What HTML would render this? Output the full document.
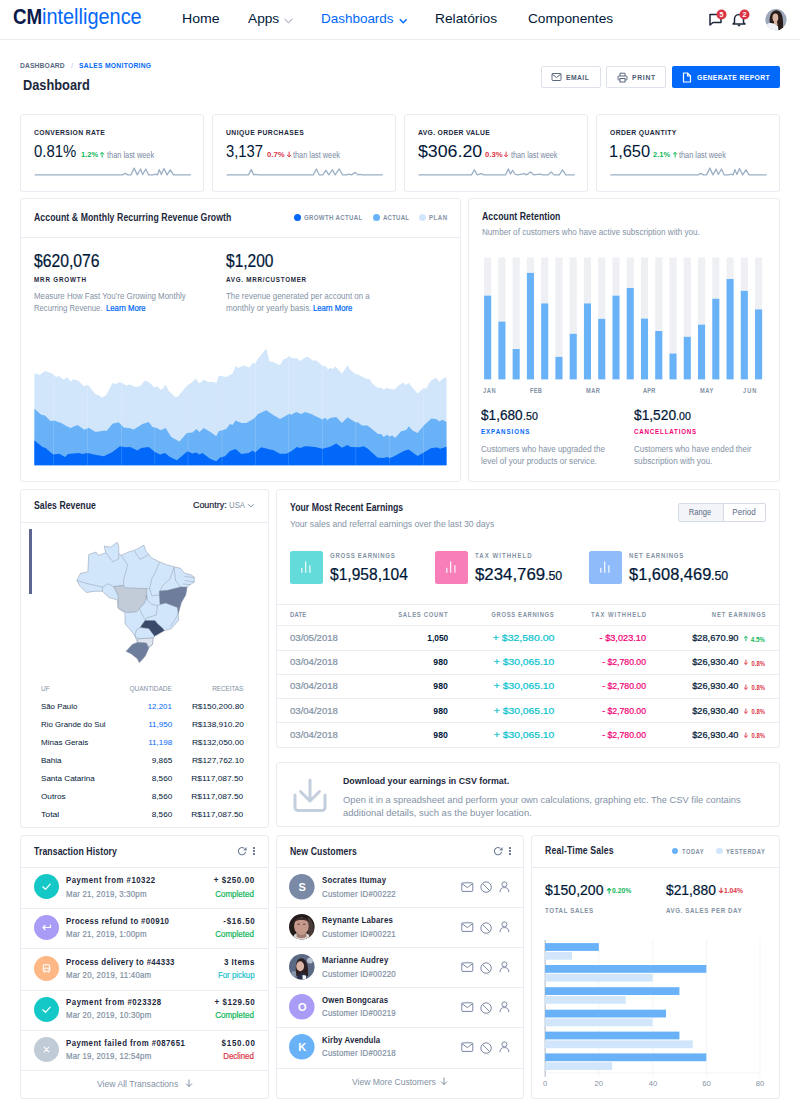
<!DOCTYPE html>
<html><head><meta charset="utf-8"><title>Dashboard</title>
<style>
html,body{margin:0;padding:0;background:#fff;}
body{width:800px;height:1119px;position:relative;overflow:hidden;font-family:"Liberation Sans", sans-serif;}
.t{position:absolute;white-space:nowrap;line-height:1;display:inline-block;}
.card{position:absolute;border:1px solid #e9ecf2;border-radius:3px;box-sizing:border-box;background:#fff;}
svg{position:absolute;overflow:visible;}
</style></head><body>

<div style="position:absolute;left:0px;top:39px;width:800px;height:1px;background:#e9ecf1;"></div>
<span class="t" style="top:5.5px;font-size:21.8px;color:#0a1a4a;font-weight:700;left:13.1px;transform:scaleX(0.861);transform-origin:left;">CM</span>
<span class="t" style="top:5.5px;font-size:21.8px;color:#0168fa;left:41.69px;transform:scaleX(0.914);transform-origin:left;">intelligence</span>
<span class="t" style="top:12.3px;font-size:13.6px;color:#001737;left:182.06px;transform:scaleX(1.037);transform-origin:left;">Home</span>
<span class="t" style="top:12.3px;font-size:13.6px;color:#001737;left:248px;transform:scaleX(1.007);transform-origin:left;">Apps</span>
<svg style="left:284px;top:17.5px;" width="10" height="8" viewBox="0 0 10 8"><polyline points="0.6,1 4.5,4.8 8.4,1" fill="none" stroke="#8392a5" stroke-width="1"/></svg>
<span class="t" style="top:12.3px;font-size:13.6px;color:#0168fa;left:320.61px;transform:scaleX(0.990);transform-origin:left;">Dashboards</span>
<svg style="left:399.3px;top:17.5px;" width="10" height="8" viewBox="0 0 10 8"><polyline points="0.8,1.2 4.2,4.8 7.6,1.2" fill="none" stroke="#0168fa" stroke-width="1.4"/></svg>
<span class="t" style="top:12.3px;font-size:13.6px;color:#001737;left:435.24px;transform:scaleX(1.014);transform-origin:left;">Relatórios</span>
<span class="t" style="top:12.3px;font-size:13.6px;color:#001737;left:527.8px;transform:scaleX(1.005);transform-origin:left;">Componentes</span>
<svg style="left:708px;top:12px;" width="16" height="16" viewBox="0 0 16 16"><path d="M2,2.5 H13 V10.5 H5 L2,13 Z" fill="none" stroke="#1c273c" stroke-width="1.5" stroke-linejoin="round"/></svg>
<svg style="left:715.5px;top:9px;" width="11" height="11" viewBox="0 0 11 11"><circle cx="5.5" cy="5.5" r="5" fill="#dc3545"/><text x="5.5" y="8" font-size="7" font-weight="700" fill="#fff" text-anchor="middle" font-family="Liberation Sans">5</text></svg>
<svg style="left:731px;top:12px;" width="16" height="16" viewBox="0 0 16 16"><path d="M3.5,10.5 V7 A4.5,4.5 0 0 1 12.5,7 V10.5 L14,12 H2 Z" fill="none" stroke="#1c273c" stroke-width="1.5" stroke-linejoin="round"/><path d="M6.8,13.5 H9.2" stroke="#1c273c" stroke-width="1.5"/></svg>
<svg style="left:738.5px;top:9px;" width="11" height="11" viewBox="0 0 11 11"><circle cx="5.5" cy="5.5" r="5" fill="#dc3545"/><text x="5.5" y="8" font-size="7" font-weight="700" fill="#fff" text-anchor="middle" font-family="Liberation Sans">2</text></svg>
<svg style="left:765px;top:9px;" width="22" height="22" viewBox="0 0 22 22"><defs><clipPath id="av0"><circle cx="11" cy="10.65" r="10.6"/></clipPath></defs>
<g clip-path="url(#av0)"><rect width="22" height="22" fill="#9ba7b9"/>
<path d="M4.6,13 C4.4,7 6,2.2 11,1.2 C15.5,1.5 17.2,5 17.6,9 C18.2,13 18.4,17 17.6,21 L12.5,22 C12,17 9,16 6,15.5 Z" fill="#2a1c18"/>
<ellipse cx="10.4" cy="8.7" rx="2.9" ry="4.1" fill="#d9b6a6"/>
<path d="M9,12 L12,12 L12.6,16 L9,16 Z" fill="#d5ae9c"/>
<path d="M1,16 C3,13.5 6,13.6 9,14.6 C10.5,16 12,16.5 13,17 L13.5,23 L1,23 Z" fill="#eef1f5"/>
</g></svg>
<span class="t" style="top:62.1px;font-size:7.8px;color:#596882;font-weight:700;letter-spacing:0.16px;left:20px;transform:scaleX(0.860);transform-origin:left;">DASHBOARD</span>
<span class="t" style="top:62px;font-size:8px;color:#c0ccda;left:71px;">/</span>
<span class="t" style="top:62.1px;font-size:7.8px;color:#0168fa;font-weight:700;letter-spacing:0.34px;left:79.25px;transform:scaleX(0.860);transform-origin:left;">SALES MONITORING</span>
<span class="t" style="top:77.7px;font-size:14.6px;color:#1c273c;font-weight:700;left:23px;transform:scaleX(0.876);transform-origin:left;">Dashboard</span>
<div style="position:absolute;left:541px;top:65.5px;width:60px;height:22.5px;border:1px solid #dde2ea;border-radius:2px;box-sizing:border-box;"></div>
<div style="position:absolute;left:606px;top:65.5px;width:60px;height:22.5px;border:1px solid #dde2ea;border-radius:2px;box-sizing:border-box;"></div>
<div style="position:absolute;left:672px;top:65.5px;width:108px;height:22.5px;background:#0168fa;border-radius:2px;"></div>
<svg style="left:551px;top:72px;" width="11" height="10" viewBox="0 0 11 10"><rect x="1" y="1.5" width="9" height="7" rx="0.8" fill="none" stroke="#5b6882" stroke-width="1"/><polyline points="1,2 5.5,5.5 10,2" fill="none" stroke="#5b6882" stroke-width="1"/></svg>
<span class="t" style="top:73.65px;font-size:7.9px;color:#4d5a73;font-weight:700;letter-spacing:0.5px;left:566.4px;transform:scaleX(0.860);transform-origin:left;">EMAIL</span>
<svg style="left:616.5px;top:71.5px;" width="11" height="11" viewBox="0 0 11 11"><path d="M3,4 V1.2 H8 V4" fill="none" stroke="#5b6882" stroke-width="1"/><rect x="1" y="4" width="9" height="4" rx="0.8" fill="none" stroke="#5b6882" stroke-width="1"/><rect x="3" y="6.5" width="5" height="3.5" fill="#fff" stroke="#5b6882" stroke-width="1"/></svg>
<span class="t" style="top:73.65px;font-size:7.9px;color:#4d5a73;font-weight:700;letter-spacing:0.81px;left:631.7px;transform:scaleX(0.860);transform-origin:left;">PRINT</span>
<svg style="left:682px;top:71.5px;" width="10" height="11" viewBox="0 0 10 11"><path d="M1.5,1 H5.5 L8.5,4 V10 H1.5 Z" fill="none" stroke="#fff" stroke-width="1.2" stroke-linejoin="round"/><path d="M5.5,1 V4 H8.5" fill="none" stroke="#fff" stroke-width="1.1"/></svg>
<span class="t" style="top:73.65px;font-size:7.9px;color:#fff;font-weight:700;letter-spacing:0.44px;left:696.7px;transform:scaleX(0.860);transform-origin:left;">GENERATE REPORT</span>
<div class="card" style="left:20px;top:114px;width:184.38px;height:77.5px;"></div>
<span class="t" style="top:129.25px;font-size:7.9px;color:#1c273c;font-weight:700;letter-spacing:0.45px;left:34px;transform:scaleX(0.860);transform-origin:left;">CONVERSION RATE</span>
<span class="t" style="top:142.8px;font-size:17.4px;color:#001737;left:34px;transform:scaleX(0.856);transform-origin:left;">0.81%</span>
<span class="t" style="top:151.4px;font-size:8px;color:#10b759;font-weight:700;left:81.2px;transform:scaleX(0.938);transform-origin:left;">1.2%</span>
<svg style="left:100.4px;top:152px;" width="4.2" height="5.2" viewBox="0 0 4.2 5.2"><path d="M2.1,5.2 V0.6 M0.3,2.1 L2.1,0.5 L3.9,2.1" fill="none" stroke="#10b759" stroke-width="0.95" stroke-linecap="round" stroke-linejoin="round"/></svg>
<span class="t" style="top:150.7px;font-size:8.4px;color:#7987a1;left:107.2px;transform:scaleX(0.881);transform-origin:left;">than last week</span>
<svg style="left:0px;top:160px;" width="800" height="20" viewBox="0 0 800 20"><polyline points="34.7,14.9 122.46,14.9 125.22,13.41 127.77,14.9 130.96,14.9 134.15,8.1 137.33,14.9 140.52,8.95 142.65,14.48 145.83,8.95 148.6,14.9 153.27,14.9 155.4,14.05 157.52,14.9 159.22,9.59 161.35,14.48 163.9,8.53 167.08,14.9 170.27,9.8 173.46,14.9 190.88,14.9" fill="none" stroke="#9cb0c6" stroke-width="1.3" stroke-linejoin="round"/></svg>
<div class="card" style="left:211.88px;top:114px;width:184.38px;height:77.5px;"></div>
<span class="t" style="top:129.25px;font-size:7.9px;color:#1c273c;font-weight:700;letter-spacing:0.53px;left:225.88px;transform:scaleX(0.860);transform-origin:left;">UNIQUE PURCHASES</span>
<span class="t" style="top:142.8px;font-size:17.4px;color:#001737;left:225.88px;transform:scaleX(0.852);transform-origin:left;">3,137</span>
<span class="t" style="top:151.4px;font-size:8px;color:#dc3545;font-weight:700;left:266.75px;transform:scaleX(0.963);transform-origin:left;">0.7%</span>
<svg style="left:286.6px;top:152px;" width="4.2" height="5.2" viewBox="0 0 4.2 5.2"><path d="M2.1,0 V4.6 M0.3,3.1 L2.1,4.7 L3.9,3.1" fill="none" stroke="#dc3545" stroke-width="0.95" stroke-linecap="round" stroke-linejoin="round"/></svg>
<span class="t" style="top:150.7px;font-size:8.4px;color:#7987a1;left:293.2px;transform:scaleX(0.876);transform-origin:left;">than last week</span>
<svg style="left:0px;top:160px;" width="800" height="20" viewBox="0 0 800 20"><polyline points="226.57,14.9 248.46,14.9 251.22,9.59 253.77,14.9 255.9,14.48 258.02,14.9 313.27,14.9 316.46,8.95 319.22,14.9 322.84,14.9 326.02,10.23 328.78,14.9 332.4,9.8 335.16,14.9 339.2,8.95 342.6,14.9 347.27,14.9 348.76,14.05 351.52,14.9 355.35,12.35 357.9,14.9 360.02,14.48 362.15,14.9 382.76,14.9" fill="none" stroke="#9cb0c6" stroke-width="1.3" stroke-linejoin="round"/></svg>
<div class="card" style="left:403.75px;top:114px;width:184.38px;height:77.5px;"></div>
<span class="t" style="top:129.25px;font-size:7.9px;color:#1c273c;font-weight:700;letter-spacing:0.38px;left:417.75px;transform:scaleX(0.860);transform-origin:left;">AVG. ORDER VALUE</span>
<span class="t" style="top:142.8px;font-size:17.4px;color:#001737;left:417.75px;transform:scaleX(1.021);transform-origin:left;">$306.20</span>
<span class="t" style="top:151.4px;font-size:8px;color:#dc3545;font-weight:700;left:484.5px;transform:scaleX(0.966);transform-origin:left;">0.3%</span>
<svg style="left:504.2px;top:152px;" width="4.2" height="5.2" viewBox="0 0 4.2 5.2"><path d="M2.1,0 V4.6 M0.3,3.1 L2.1,4.7 L3.9,3.1" fill="none" stroke="#dc3545" stroke-width="0.95" stroke-linecap="round" stroke-linejoin="round"/></svg>
<span class="t" style="top:150.7px;font-size:8.4px;color:#7987a1;left:511px;transform:scaleX(0.868);transform-origin:left;">than last week</span>
<svg style="left:0px;top:160px;" width="800" height="20" viewBox="0 0 800 20"><polyline points="418.45,14.9 471.57,14.9 474.34,9.8 477.1,14.9 481.35,13.63 483.9,14.9 505.57,14.9 508.34,8.95 510.46,14.05 512.59,10.23 515.35,14.48 517.9,14.9 524.27,13.63 526.4,14.9 530.65,11.93 533.83,14.9 540.21,14.05 542.33,14.9 548.07,14.9 551.26,11.93 554.02,14.9 559.33,14.9 562.52,9.8 565.71,14.9 574.63,14.9" fill="none" stroke="#9cb0c6" stroke-width="1.3" stroke-linejoin="round"/></svg>
<div class="card" style="left:595.62px;top:114px;width:184.38px;height:77.5px;"></div>
<span class="t" style="top:129.25px;font-size:7.9px;color:#1c273c;font-weight:700;letter-spacing:0.47px;left:609.62px;transform:scaleX(0.860);transform-origin:left;">ORDER QUANTITY</span>
<span class="t" style="top:142.8px;font-size:17.4px;color:#001737;left:608.68px;transform:scaleX(0.944);transform-origin:left;">1,650</span>
<span class="t" style="top:151.4px;font-size:8px;color:#10b759;font-weight:700;left:653px;transform:scaleX(0.938);transform-origin:left;">2.1%</span>
<svg style="left:673px;top:152px;" width="4.2" height="5.2" viewBox="0 0 4.2 5.2"><path d="M2.1,5.2 V0.6 M0.3,2.1 L2.1,0.5 L3.9,2.1" fill="none" stroke="#10b759" stroke-width="0.95" stroke-linecap="round" stroke-linejoin="round"/></svg>
<span class="t" style="top:150.7px;font-size:8.4px;color:#7987a1;left:679.3px;transform:scaleX(0.874);transform-origin:left;">than last week</span>
<svg style="left:0px;top:160px;" width="800" height="20" viewBox="0 0 800 20"><polyline points="610.33,14.9 698.09,14.9 700.85,13.41 703.4,14.9 706.59,14.9 709.77,8.1 712.96,14.9 716.15,8.95 718.27,14.48 721.46,8.95 724.22,14.9 728.9,14.9 731.02,14.05 733.15,14.9 734.85,9.59 736.97,14.48 739.52,8.53 742.71,14.9 745.9,9.8 749.08,14.9 766.51,14.9" fill="none" stroke="#9cb0c6" stroke-width="1.3" stroke-linejoin="round"/></svg>
<div class="card" style="left:20px;top:198px;width:440.5px;height:283.5px;"></div>
<div style="position:absolute;left:20px;top:237px;width:440.5px;height:1px;background:#e9ecf2;"></div>
<span class="t" style="top:211.7px;font-size:10.6px;color:#1c273c;font-weight:700;letter-spacing:0.1px;left:34.3px;transform:scaleX(0.820);transform-origin:left;">Account &amp; Monthly Recurring Revenue Growth</span>
<div style="position:absolute;left:294.2px;top:214px;width:7px;height:7px;border-radius:50%;background:#0168fa;"></div>
<div style="position:absolute;left:372.8px;top:214px;width:7px;height:7px;border-radius:50%;background:#69b2f8;"></div>
<div style="position:absolute;left:418.5px;top:214px;width:7px;height:7px;border-radius:50%;background:#d1e6fa;"></div>
<span class="t" style="top:215.25px;font-size:7.1px;color:#8392a5;font-weight:700;letter-spacing:0.37px;left:304.3px;transform:scaleX(0.860);transform-origin:left;">GROWTH ACTUAL</span>
<span class="t" style="top:215.25px;font-size:7.1px;color:#8392a5;font-weight:700;letter-spacing:0.22px;left:382.8px;transform:scaleX(0.860);transform-origin:left;">ACTUAL</span>
<span class="t" style="top:215.25px;font-size:7.1px;color:#8392a5;font-weight:700;letter-spacing:0.58px;left:428.5px;transform:scaleX(0.860);transform-origin:left;">PLAN</span>
<span class="t" style="top:252.3px;font-size:18px;color:#001737;-webkit-text-stroke:0.22px #001737;left:34.3px;transform:scaleX(0.873);transform-origin:left;">$620,076</span>
<span class="t" style="top:275.65px;font-size:7.3px;color:#1c273c;font-weight:700;letter-spacing:0.95px;left:34.3px;transform:scaleX(0.860);transform-origin:left;">MRR GROWTH</span>
<span class="t" style="top:291.7px;font-size:8.4px;color:#8392a5;left:34.3px;transform:scaleX(0.942);transform-origin:left;">Measure How Fast You’re Growing Monthly</span>
<span class="t" style="top:304.1px;font-size:8.4px;color:#8392a5;left:34.3px;transform:scaleX(0.920);transform-origin:left;">Recurring Revenue.</span>
<span class="t" style="top:304.1px;font-size:8.4px;color:#0168fa;-webkit-text-stroke:0.22px #0168fa;left:105.8px;transform:scaleX(0.924);transform-origin:left;">Learn More</span>
<span class="t" style="top:252.3px;font-size:18px;color:#001737;-webkit-text-stroke:0.22px #001737;left:225.5px;transform:scaleX(0.863);transform-origin:left;">$1,200</span>
<span class="t" style="top:275.65px;font-size:7.3px;color:#1c273c;font-weight:700;letter-spacing:0.85px;left:225.5px;transform:scaleX(0.860);transform-origin:left;">AVG. MRR/CUSTOMER</span>
<span class="t" style="top:291.7px;font-size:8.4px;color:#8392a5;left:225.5px;transform:scaleX(0.947);transform-origin:left;">The revenue generated per account on a</span>
<span class="t" style="top:304.1px;font-size:8.4px;color:#8392a5;left:225.5px;transform:scaleX(0.972);transform-origin:left;">monthly or yearly basis.</span>
<span class="t" style="top:304.1px;font-size:8.4px;color:#0168fa;-webkit-text-stroke:0.22px #0168fa;left:312.6px;transform:scaleX(0.917);transform-origin:left;">Learn More</span>
<svg style="left:0px;top:0px;" width="800" height="480" viewBox="0 0 800 480"><path d="M34.4,465.3 L34.4,373.5 L40,374.75 L45,371 L52.5,373.75 L56,376.9 L58.75,376 L63.75,379.75 L67.25,377.25 L70.6,381.6 L73,379.4 L78,380.6 L83.75,386.25 L88,384.75 L95,393.75 L98,395 L101.9,397.5 L106.25,395 L112.5,383.1 L115.6,384 L120,381.9 L126.25,385.6 L130,384.4 L135,386.9 L140,386.25 L145,380.6 L148.75,381.9 L154.4,387.25 L156.9,386.25 L160.6,389.75 L162.5,388.75 L165.6,384.4 L168.75,391 L175.6,397.25 L178.1,396.5 L187.5,385 L191.25,383.1 L195.6,378.75 L199.4,383.5 L203.75,379.75 L208.1,381.9 L213.75,381.9 L216.25,383.5 L218.75,375.6 L226.25,376.9 L230,375 L232.5,373.5 L235.6,366.25 L238.1,368.1 L243.75,365.6 L249.4,367.5 L252.5,363.1 L255,363.75 L258.1,358.75 L266.25,348.5 L269.4,361.25 L273.1,361.9 L278.75,364.75 L280.6,364.4 L283.1,359.4 L285.6,359 L288.75,356 L291.25,358.1 L297.5,358.5 L300,361 L306.25,356.9 L309.4,357.75 L312.5,360.6 L316.25,360.6 L323.1,366.25 L325,365.6 L328.1,369.4 L330,368.1 L332.5,369 L335.6,366.5 L341.9,373.75 L347.5,365.6 L350,369.75 L355.6,374 L358.1,374.4 L362.5,376.9 L366.9,379 L369.4,378.75 L372.5,383.75 L378.1,388.1 L380.6,387.5 L383.75,389.4 L386.9,387.75 L390,389 L394.4,389.4 L398.1,386 L403.1,382.5 L405.6,385 L408.75,383.1 L417.5,393.5 L423.75,388.1 L426.25,388.75 L430.2,381.3 L436,377.8 L439.5,382.1 L442.4,379 L446.5,377 L446.5,465.3 Z" fill="#d1e6fa"/><path d="M34.4,465.3 L34.4,408.75 L41.25,414.75 L45,415.6 L50.6,421.25 L53.75,420.6 L61.25,423.1 L66.25,426 L70.6,428.1 L77.5,425 L84.4,429.75 L88.75,427.75 L95.6,431.9 L105,430.6 L106.25,431.25 L112.5,423.75 L118.75,422.25 L123.75,427.5 L130,428.3 L133.75,429.4 L142.5,424 L148.75,421.9 L152.5,426.9 L156.9,428.1 L160.6,430.25 L165.6,428.1 L171.25,436.9 L179.4,441.5 L186.9,433.1 L192.5,432.5 L196.25,429 L199.4,431.9 L203.75,428.1 L211.25,432.5 L216.25,436.25 L218.75,431.25 L226.25,429 L230,424 L232.5,425 L235.6,420.6 L241.25,423.1 L246.25,423.1 L253.75,418.75 L258.1,414 L266.25,410.25 L272.5,414.4 L280,419 L285,416.25 L289.4,413.75 L291.25,414.75 L296.25,411.9 L301.25,414 L305,411.9 L311.25,414 L316.25,416.5 L322.5,419.4 L325,417.75 L327.5,420 L330,418.1 L336.25,416.9 L341.9,423.1 L347.5,417.25 L355,421.9 L358.1,422.5 L361.9,425.6 L367.5,425.6 L378.1,434 L381.25,434 L383.75,436.9 L386.9,434.75 L389.4,436.5 L392.5,435.6 L395,438.1 L401.25,431.25 L406.25,430 L408.75,426.25 L412.5,430.6 L417.5,433.1 L423.75,425.6 L431.4,418.5 L436,419.1 L439.5,421.4 L442.4,419.7 L446.5,422 L446.5,465.3 Z" fill="#69b2f8"/><path d="M34.4,465.3 L34.4,440.6 L42.5,446.9 L45.6,448.1 L53.1,454.4 L59.4,453.75 L65,456.9 L68.1,454 L78.75,453.1 L82.5,454 L87.5,453.1 L95,454.75 L103.75,456.25 L112.5,451.9 L120,446.25 L125,447.25 L130,447.1 L137.5,450.6 L141.25,448.1 L148.75,446.9 L155,451.9 L160,454.4 L165,453.1 L170,456.9 L176.9,460.25 L187.5,451.25 L192.5,453.5 L196.25,452.5 L199.4,454.4 L202.5,453.1 L210,458.75 L216.25,461.25 L220,457.5 L225,456.25 L230,451.1 L235.6,449 L241.25,454 L248.75,453.1 L252.5,450.6 L255,452.5 L261.25,447.25 L270,449.4 L273.1,450 L280,453.75 L286.25,453.75 L291.25,451.25 L296.9,446.9 L300,448.1 L305,446.25 L310,446.5 L316.25,447.25 L322.5,448.75 L330,446.7 L336.25,443.5 L341.9,447.75 L347.5,445 L350.6,446.9 L360,447.25 L363.75,446.25 L367.5,448.5 L377.5,457.5 L383.75,458.1 L386.9,456.9 L390,458.1 L393.75,456.5 L400,453.1 L405,450.6 L408.75,449.4 L417.5,456 L423.3,452.8 L431.4,448.1 L437.2,447.6 L440.1,448.7 L446.5,446.7 L446.5,465.3 Z" fill="#0168fa"/><rect x="53.1" y="300" width="0.8" height="165.3" fill="#ffffff" fill-opacity="0.18"/><rect x="87.1" y="300" width="0.8" height="165.3" fill="#ffffff" fill-opacity="0.18"/><rect x="121.1" y="300" width="0.8" height="165.3" fill="#ffffff" fill-opacity="0.18"/><rect x="154.4" y="300" width="0.8" height="165.3" fill="#ffffff" fill-opacity="0.18"/><rect x="187.6" y="300" width="0.8" height="165.3" fill="#ffffff" fill-opacity="0.18"/><rect x="221.6" y="300" width="0.8" height="165.3" fill="#ffffff" fill-opacity="0.18"/><rect x="255.2" y="300" width="0.8" height="165.3" fill="#ffffff" fill-opacity="0.18"/><rect x="288.1" y="300" width="0.8" height="165.3" fill="#ffffff" fill-opacity="0.18"/><rect x="322.1" y="300" width="0.8" height="165.3" fill="#ffffff" fill-opacity="0.18"/><rect x="355.4" y="300" width="0.8" height="165.3" fill="#ffffff" fill-opacity="0.18"/><rect x="389.3" y="300" width="0.8" height="165.3" fill="#ffffff" fill-opacity="0.18"/><rect x="423.2" y="300" width="0.8" height="165.3" fill="#ffffff" fill-opacity="0.18"/></svg>
<div class="card" style="left:467.5px;top:198px;width:312.5px;height:283.5px;"></div>
<span class="t" style="top:211.45px;font-size:10.6px;color:#1c273c;font-weight:700;letter-spacing:0.09px;left:481.6px;transform:scaleX(0.820);transform-origin:left;">Account Retention</span>
<span class="t" style="top:228.35px;font-size:8.3px;color:#8392a5;left:481.6px;transform:scaleX(0.978);transform-origin:left;">Number of customers who have active subscription with you.</span>
<svg style="left:0px;top:0px;" width="800" height="480" viewBox="0 0 800 480"><rect x="484.1" y="257.5" width="7.1" height="38.1" fill="#eef0f4"/><rect x="484.1" y="295.6" width="7.1" height="83.8" fill="#69b2f8"/><rect x="498.36" y="257.5" width="7.1" height="64.1" fill="#eef0f4"/><rect x="498.36" y="321.6" width="7.1" height="57.8" fill="#69b2f8"/><rect x="512.62" y="257.5" width="7.1" height="91.5" fill="#eef0f4"/><rect x="512.62" y="349" width="7.1" height="30.4" fill="#69b2f8"/><rect x="526.88" y="257.5" width="7.1" height="15.4" fill="#eef0f4"/><rect x="526.88" y="272.9" width="7.1" height="106.5" fill="#69b2f8"/><rect x="541.14" y="257.5" width="7.1" height="45.9" fill="#eef0f4"/><rect x="541.14" y="303.4" width="7.1" height="76" fill="#69b2f8"/><rect x="555.4" y="257.5" width="7.1" height="99.4" fill="#eef0f4"/><rect x="555.4" y="356.9" width="7.1" height="22.5" fill="#69b2f8"/><rect x="569.66" y="257.5" width="7.1" height="76.3" fill="#eef0f4"/><rect x="569.66" y="333.8" width="7.1" height="45.6" fill="#69b2f8"/><rect x="583.92" y="257.5" width="7.1" height="45.9" fill="#eef0f4"/><rect x="583.92" y="303.4" width="7.1" height="76" fill="#69b2f8"/><rect x="598.18" y="257.5" width="7.1" height="61.3" fill="#eef0f4"/><rect x="598.18" y="318.8" width="7.1" height="60.6" fill="#69b2f8"/><rect x="612.44" y="257.5" width="7.1" height="38.1" fill="#eef0f4"/><rect x="612.44" y="295.6" width="7.1" height="83.8" fill="#69b2f8"/><rect x="626.7" y="257.5" width="7.1" height="30.5" fill="#eef0f4"/><rect x="626.7" y="288" width="7.1" height="91.4" fill="#69b2f8"/><rect x="640.96" y="257.5" width="7.1" height="61.1" fill="#eef0f4"/><rect x="640.96" y="318.6" width="7.1" height="60.8" fill="#69b2f8"/><rect x="655.22" y="257.5" width="7.1" height="73.5" fill="#eef0f4"/><rect x="655.22" y="331" width="7.1" height="48.4" fill="#69b2f8"/><rect x="669.48" y="257.5" width="7.1" height="96" fill="#eef0f4"/><rect x="669.48" y="353.5" width="7.1" height="25.9" fill="#69b2f8"/><rect x="683.74" y="257.5" width="7.1" height="79.3" fill="#eef0f4"/><rect x="683.74" y="336.8" width="7.1" height="42.6" fill="#69b2f8"/><rect x="698" y="257.5" width="7.1" height="67.1" fill="#eef0f4"/><rect x="698" y="324.6" width="7.1" height="54.8" fill="#69b2f8"/><rect x="712.26" y="257.5" width="7.1" height="41.25" fill="#eef0f4"/><rect x="712.26" y="298.75" width="7.1" height="80.65" fill="#69b2f8"/><rect x="726.52" y="257.5" width="7.1" height="21.5" fill="#eef0f4"/><rect x="726.52" y="279" width="7.1" height="100.4" fill="#69b2f8"/><rect x="740.78" y="257.5" width="7.1" height="33.4" fill="#eef0f4"/><rect x="740.78" y="290.9" width="7.1" height="88.5" fill="#69b2f8"/><rect x="755.04" y="257.5" width="7.1" height="51.9" fill="#eef0f4"/><rect x="755.04" y="309.4" width="7.1" height="70" fill="#69b2f8"/></svg>
<span class="t" style="top:387.5px;font-size:6.6px;color:#8392a5;font-weight:700;letter-spacing:0.67px;left:482.9px;transform:scaleX(0.860);transform-origin:left;">JAN</span>
<span class="t" style="top:387.5px;font-size:6.6px;color:#8392a5;font-weight:700;letter-spacing:0.26px;left:530px;transform:scaleX(0.860);transform-origin:left;">FEB</span>
<span class="t" style="top:387.5px;font-size:6.6px;color:#8392a5;font-weight:700;letter-spacing:0.51px;left:586px;transform:scaleX(0.860);transform-origin:left;">MAR</span>
<span class="t" style="top:387.5px;font-size:6.6px;color:#8392a5;font-weight:700;letter-spacing:0.25px;left:643.4px;transform:scaleX(0.860);transform-origin:left;">APR</span>
<span class="t" style="top:387.5px;font-size:6.6px;color:#8392a5;font-weight:700;letter-spacing:0.67px;left:700px;transform:scaleX(0.860);transform-origin:left;">MAY</span>
<span class="t" style="top:387.5px;font-size:6.6px;color:#8392a5;font-weight:700;letter-spacing:1.13px;left:743px;transform:scaleX(0.860);transform-origin:left;">JUN</span>
<span class="t" style="top:407.65px;font-size:14.5px;color:#001737;-webkit-text-stroke:0.22px #001737;left:481.4px;transform:scaleX(0.939);transform-origin:left;">$1,680</span>
<span class="t" style="top:410.65px;font-size:10.5px;color:#001737;-webkit-text-stroke:0.22px #001737;left:523.2px;transform:scaleX(1.016);transform-origin:left;">.50</span>
<span class="t" style="top:428px;font-size:7.2px;color:#0168fa;font-weight:700;letter-spacing:1.08px;left:481.4px;transform:scaleX(0.860);transform-origin:left;">EXPANSIONS</span>
<span class="t" style="top:445.35px;font-size:8.3px;color:#8392a5;left:481.4px;transform:scaleX(0.959);transform-origin:left;">Customers who have upgraded the</span>
<span class="t" style="top:456.95px;font-size:8.3px;color:#8392a5;left:481.4px;transform:scaleX(0.970);transform-origin:left;">level of your products or service.</span>
<span class="t" style="top:407.65px;font-size:14.5px;color:#001737;-webkit-text-stroke:0.22px #001737;left:633.6px;transform:scaleX(0.948);transform-origin:left;">$1,520</span>
<span class="t" style="top:410.65px;font-size:10.5px;color:#001737;-webkit-text-stroke:0.22px #001737;left:675.8px;transform:scaleX(1.016);transform-origin:left;">.00</span>
<span class="t" style="top:428px;font-size:7.2px;color:#f10075;font-weight:700;letter-spacing:0.95px;left:633.6px;transform:scaleX(0.860);transform-origin:left;">CANCELLATIONS</span>
<span class="t" style="top:445.35px;font-size:8.3px;color:#8392a5;left:633.6px;transform:scaleX(0.964);transform-origin:left;">Customers who have ended their</span>
<span class="t" style="top:456.95px;font-size:8.3px;color:#8392a5;left:633.6px;transform:scaleX(0.987);transform-origin:left;">subscription with you.</span>
<div class="card" style="left:20px;top:489px;width:248.5px;height:338.5px;"></div>
<div style="position:absolute;left:20px;top:522px;width:248.5px;height:1px;background:#e9ecf2;"></div>
<span class="t" style="top:499.6px;font-size:10.6px;color:#1c273c;font-weight:700;letter-spacing:0.06px;left:34px;transform:scaleX(0.820);transform-origin:left;">Sales Revenue</span>
<span class="t" style="top:501.35px;font-size:8.7px;color:#1c273c;-webkit-text-stroke:0.22px #1c273c;left:192.8px;transform:scaleX(1.024);transform-origin:left;">Country:</span>
<span class="t" style="top:501.35px;font-size:8.7px;color:#8392a5;left:229.4px;transform:scaleX(0.897);transform-origin:left;">USA</span>
<svg style="left:247px;top:503px;" width="8" height="6" viewBox="0 0 8 6"><polyline points="1,1.2 3.8,4 6.6,1.2" fill="none" stroke="#8392a5" stroke-width="1"/></svg>
<div style="position:absolute;left:29px;top:528.75px;width:2.75px;height:65px;background:#5d6591;"></div>
<svg style="left:0px;top:0px;" width="800" height="700" viewBox="0 0 800 700"><polygon points="76.8,580.5 80.6,573.2 87.9,572 88.7,554.5 96,552 98.4,555.3 105.75,552.9 104.1,546 110.6,547.2 117.1,542.3 118.75,546.4 118.75,553.7 121.2,555.3 128.5,552 134.2,550.4 139,548 143.9,545.1 146,551.25 148.8,554.5 151.25,557.75 159.4,561.8 167.5,565 174,566.7 180.5,568.3 184.6,573.2 191,574.8 194.3,577.25 194.3,582.1 190.25,584.6 187,587 185.6,595 181.25,602.5 178.1,613.75 178.75,620 175,624.4 171.25,628.75 164.4,630.6 154.4,636.25 153.1,638.1 152.5,644.4 148.75,648.1 145,656.25 139.4,662.5 137.5,658.75 131.25,653.75 126.25,651.25 132.5,644.4 137.5,642.5 135,636.25 132.5,632.5 125,623.75 125,613.1 118.1,608.1 117.5,600 108.75,597.5 102.5,591.25 95,591.25 86.25,592.5 80,586.25" fill="#d1e6fa" stroke="#7f8ba0" stroke-width="0.45" stroke-linejoin="round"/><polyline points="76.8,580.5 87.9,583.75 102.5,587 108.2,583.75 113.9,586.7 123.6,585.4" fill="none" stroke="#7f8ba0" stroke-width="0.4" stroke-linejoin="round"/><polyline points="102.5,587 102.5,591.25" fill="none" stroke="#7f8ba0" stroke-width="0.4" stroke-linejoin="round"/><polyline points="113.9,586.7 118.1,595" fill="none" stroke="#7f8ba0" stroke-width="0.4" stroke-linejoin="round"/><polyline points="105.75,552.9 113,561.8 118.75,558.6 118.75,553.7" fill="none" stroke="#7f8ba0" stroke-width="0.4" stroke-linejoin="round"/><polyline points="121.2,555.3 127.7,565 123.6,579.7 123.6,585.4" fill="none" stroke="#7f8ba0" stroke-width="0.4" stroke-linejoin="round"/><polyline points="134.2,550.4 140,559.5 148.8,554.5" fill="none" stroke="#7f8ba0" stroke-width="0.4" stroke-linejoin="round"/><polyline points="159.4,562.5 154.5,574 152,578 149.6,588.6 146.4,588.6" fill="none" stroke="#7f8ba0" stroke-width="0.4" stroke-linejoin="round"/><polyline points="149.6,588.6 152,596 159.4,595" fill="none" stroke="#7f8ba0" stroke-width="0.4" stroke-linejoin="round"/><polyline points="174,567.2 170,578.9 162.6,585.4 160.2,591 159.4,595" fill="none" stroke="#7f8ba0" stroke-width="0.4" stroke-linejoin="round"/><polyline points="174,567.2 175.6,580.5 180.5,587" fill="none" stroke="#7f8ba0" stroke-width="0.4" stroke-linejoin="round"/><polyline points="184.6,576.5 194.3,577.6" fill="none" stroke="#7f8ba0" stroke-width="0.4" stroke-linejoin="round"/><polyline points="184.6,580.5 194.3,582.1" fill="none" stroke="#7f8ba0" stroke-width="0.4" stroke-linejoin="round"/><polyline points="183,584 190.25,584.6" fill="none" stroke="#7f8ba0" stroke-width="0.4" stroke-linejoin="round"/><polyline points="147.2,600 152,604.5 157.5,605.6 160,604.4" fill="none" stroke="#7f8ba0" stroke-width="0.4" stroke-linejoin="round"/><polyline points="139.4,608.75 144.4,618.75" fill="none" stroke="#7f8ba0" stroke-width="0.4" stroke-linejoin="round"/><polyline points="157.5,605.6 156.25,615 146.25,618.1 143.75,623.75" fill="none" stroke="#7f8ba0" stroke-width="0.4" stroke-linejoin="round"/><polyline points="178.1,613.75 175,620 170,626.9" fill="none" stroke="#7f8ba0" stroke-width="0.4" stroke-linejoin="round"/><polygon points="123.6,585.4 125.25,587.8 146.4,588.6 147.2,600 146.25,595 145,602.5 139.4,608.75 136.25,611.9 126.9,612.5 118.1,608.1 118.1,595 113.9,586.7" fill="#c2ccd9" stroke="#7f8ba0" stroke-width="0.4" stroke-linejoin="round"/><polygon points="159.4,595 160,604.4 165.6,603.1 177.5,607.5 178.1,613.75 181.25,602.5 185.6,595 187,587 180.5,587 167.5,590.25 159.4,591" fill="#6e7d9b" stroke="#7f8ba0" stroke-width="0.4" stroke-linejoin="round"/><polygon points="140,627.5 145,620.6 155,620.6 157.5,623.75 162.5,628.1 164.4,630.6 154.4,636.25 148.75,628.75" fill="#3b4a68" stroke="#7f8ba0" stroke-width="0.4" stroke-linejoin="round"/><polygon points="136.25,630 135,636.25 138.1,638.75 153.1,638.1 154.4,636.25 148.75,628.75 140,627.5" fill="#d1e6fa" stroke="#7f8ba0" stroke-width="0.4" stroke-linejoin="round"/><polygon points="138.1,638.75 137.5,642.5 146.25,643.1 148.75,646.9 152.5,644.4 153.1,638.1" fill="#dfe5ef" stroke="#7f8ba0" stroke-width="0.4" stroke-linejoin="round"/><polygon points="126.25,651.25 132.5,644.4 137.5,642.5 146.25,643.1 148.75,648.1 145,656.25 139.4,662.5 137.5,658.75 131.25,653.75" fill="#6e7d9b" stroke="#7f8ba0" stroke-width="0.4" stroke-linejoin="round"/></svg>
<span class="t" style="top:685.6px;font-size:6.8px;color:#8392a5;left:40.5px;transform:scaleX(0.954);transform-origin:left;">UF</span>
<span class="t" style="top:685.75px;font-size:6.5px;color:#8392a5;letter-spacing:-0.03px;right:628.2px;">QUANTIDADE</span>
<span class="t" style="top:685.75px;font-size:6.5px;color:#8392a5;letter-spacing:-0.13px;right:556.79px;">RECEITAS</span>
<span class="t" style="top:702.95px;font-size:8.1px;color:#001737;left:40.5px;transform:scaleX(0.971);transform-origin:left;">São Paulo</span>
<span class="t" style="top:702.95px;font-size:8.1px;color:#0168fa;right:627.98px;transform:scaleX(0.970);transform-origin:right;">12,201</span>
<span class="t" style="top:702.95px;font-size:8.1px;color:#001737;right:556.51px;transform:scaleX(1.022);transform-origin:right;">R$150,200.80</span>
<span class="t" style="top:720.93px;font-size:8.1px;color:#001737;left:40.5px;transform:scaleX(0.969);transform-origin:left;">Rio Grande do Sul</span>
<span class="t" style="top:720.93px;font-size:8.1px;color:#0168fa;right:628px;transform:scaleX(0.994);transform-origin:right;">11,950</span>
<span class="t" style="top:720.93px;font-size:8.1px;color:#001737;right:556.51px;transform:scaleX(1.022);transform-origin:right;">R$138,910.20</span>
<span class="t" style="top:738.91px;font-size:8.1px;color:#001737;left:40.5px;transform:scaleX(0.992);transform-origin:left;">Minas Gerais</span>
<span class="t" style="top:738.91px;font-size:8.1px;color:#0168fa;right:628px;transform:scaleX(0.994);transform-origin:right;">11,198</span>
<span class="t" style="top:738.91px;font-size:8.1px;color:#001737;right:556.51px;transform:scaleX(1.022);transform-origin:right;">R$132,050.00</span>
<span class="t" style="top:756.89px;font-size:8.1px;color:#001737;left:40.5px;transform:scaleX(0.991);transform-origin:left;">Bahia</span>
<span class="t" style="top:756.89px;font-size:8.1px;color:#001737;right:628px;transform:scaleX(1.012);transform-origin:right;">9,865</span>
<span class="t" style="top:756.89px;font-size:8.1px;color:#001737;right:556.51px;transform:scaleX(1.022);transform-origin:right;">R$127,762.10</span>
<span class="t" style="top:774.87px;font-size:8.1px;color:#001737;left:40.5px;transform:scaleX(0.996);transform-origin:left;">Santa Catarina</span>
<span class="t" style="top:774.87px;font-size:8.1px;color:#001737;right:628px;transform:scaleX(1.012);transform-origin:right;">8,560</span>
<span class="t" style="top:774.87px;font-size:8.1px;color:#001737;right:556.52px;transform:scaleX(1.034);transform-origin:right;">R$117,087.50</span>
<span class="t" style="top:792.85px;font-size:8.1px;color:#001737;left:40.5px;transform:scaleX(1.011);transform-origin:left;">Outros</span>
<span class="t" style="top:792.85px;font-size:8.1px;color:#001737;right:628px;transform:scaleX(1.012);transform-origin:right;">8,560</span>
<span class="t" style="top:792.85px;font-size:8.1px;color:#001737;right:556.52px;transform:scaleX(1.034);transform-origin:right;">R$117,087.50</span>
<span class="t" style="top:810.83px;font-size:8.1px;color:#001737;left:40.5px;transform:scaleX(1.070);transform-origin:left;">Total</span>
<span class="t" style="top:810.83px;font-size:8.1px;color:#001737;right:628px;transform:scaleX(1.012);transform-origin:right;">8,560</span>
<span class="t" style="top:810.83px;font-size:8.1px;color:#001737;right:556.52px;transform:scaleX(1.034);transform-origin:right;">R$117,087.50</span>
<div class="card" style="left:275.5px;top:489px;width:504.5px;height:258.5px;"></div>
<span class="t" style="top:502.1px;font-size:10.6px;color:#1c273c;font-weight:700;letter-spacing:0.02px;left:290px;transform:scaleX(0.820);transform-origin:left;">Your Most Recent Earnings</span>
<span class="t" style="top:519.7px;font-size:8.6px;color:#8392a5;left:290px;transform:scaleX(1.005);transform-origin:left;">Your sales and referral earnings over the last 30 days</span>
<div style="position:absolute;left:678.4px;top:502.6px;width:87.3px;height:19.7px;border:1px solid #d5dbe6;border-radius:2px;box-sizing:border-box;background:#fff;overflow:hidden;"><div style="position:absolute;left:0;top:0;width:43.3px;height:100%;background:#f3f4f8;border-right:1px solid #d5dbe6;"></div></div>
<span class="t" style="top:508.15px;font-size:8.5px;color:#596882;left:700.3px;transform:translateX(-50%) scaleX(0.889);">Range</span>
<span class="t" style="top:508.15px;font-size:8.5px;color:#596882;left:744px;transform:translateX(-50%) scaleX(0.946);">Period</span>
<div style="position:absolute;left:289.75px;top:550.6px;width:33.2px;height:33px;background:#63dbdb;border-radius:2.5px;"></div>
<svg style="left:301.25px;top:561px;" width="10" height="12" viewBox="0 0 10 12"><rect x="0.15" y="6.8" width="1.3" height="5" fill="#fff" fill-opacity="0.85"/><rect x="4" y="0.4" width="1.3" height="11.4" fill="#fff" fill-opacity="0.85"/><rect x="8.25" y="4.25" width="1.3" height="7.55" fill="#fff" fill-opacity="0.85"/></svg>
<span class="t" style="top:551.6px;font-size:7px;color:#8392a5;font-weight:700;letter-spacing:0.85px;left:329.75px;transform:scaleX(0.860);transform-origin:left;">GROSS EARNINGS</span>
<span class="t" style="top:566.25px;font-size:17.1px;color:#001737;-webkit-text-stroke:0.22px #001737;left:329.75px;transform:scaleX(0.911);transform-origin:left;">$1,958,104</span>
<div style="position:absolute;left:434.75px;top:550.6px;width:33.2px;height:33px;background:#f77eb9;border-radius:2.5px;"></div>
<svg style="left:446.25px;top:561px;" width="10" height="12" viewBox="0 0 10 12"><rect x="0.15" y="6.8" width="1.3" height="5" fill="#fff" fill-opacity="0.85"/><rect x="4" y="0.4" width="1.3" height="11.4" fill="#fff" fill-opacity="0.85"/><rect x="8.25" y="4.25" width="1.3" height="7.55" fill="#fff" fill-opacity="0.85"/></svg>
<span class="t" style="top:551.6px;font-size:7px;color:#8392a5;font-weight:700;letter-spacing:1.23px;left:474.75px;transform:scaleX(0.860);transform-origin:left;">TAX WITHHELD</span>
<span class="t" style="top:566.25px;font-size:17.1px;color:#001737;-webkit-text-stroke:0.22px #001737;left:474.75px;transform:scaleX(0.983);transform-origin:left;">$234,769</span>
<span class="t" style="top:570.3px;font-size:12px;color:#001737;-webkit-text-stroke:0.22px #001737;left:544.52px;transform:scaleX(1.031);transform-origin:left;">.50</span>
<div style="position:absolute;left:588.9px;top:550.6px;width:33.2px;height:33px;background:#8fbbfa;border-radius:2.5px;"></div>
<svg style="left:600.4px;top:561px;" width="10" height="12" viewBox="0 0 10 12"><rect x="0.15" y="6.8" width="1.3" height="5" fill="#fff" fill-opacity="0.85"/><rect x="4" y="0.4" width="1.3" height="11.4" fill="#fff" fill-opacity="0.85"/><rect x="8.25" y="4.25" width="1.3" height="7.55" fill="#fff" fill-opacity="0.85"/></svg>
<span class="t" style="top:551.6px;font-size:7px;color:#8392a5;font-weight:700;letter-spacing:0.93px;left:628.9px;transform:scaleX(0.860);transform-origin:left;">NET EARNINGS</span>
<span class="t" style="top:566.25px;font-size:17.1px;color:#001737;-webkit-text-stroke:0.22px #001737;left:628.9px;transform:scaleX(0.962);transform-origin:left;">$1,608,469</span>
<span class="t" style="top:570.3px;font-size:12px;color:#001737;-webkit-text-stroke:0.22px #001737;left:710.87px;transform:scaleX(1.031);transform-origin:left;">.50</span>
<div style="position:absolute;left:275.5px;top:604.4px;width:504.5px;height:1px;background:#e9ecf2;"></div>
<div style="position:absolute;left:275.5px;top:625.3px;width:504.5px;height:1px;background:#e9ecf2;"></div>
<span class="t" style="top:612.4px;font-size:6.8px;color:#8392a5;font-weight:700;letter-spacing:0.24px;left:289.75px;transform:scaleX(0.860);transform-origin:left;">DATE</span>
<span class="t" style="top:612.4px;font-size:6.8px;color:#8392a5;font-weight:700;letter-spacing:0.88px;right:351.77px;transform:scaleX(0.860);transform-origin:right;">SALES COUNT</span>
<span class="t" style="top:612.4px;font-size:6.8px;color:#8392a5;font-weight:700;letter-spacing:0.79px;right:245.72px;transform:scaleX(0.860);transform-origin:right;">GROSS EARNINGS</span>
<span class="t" style="top:612.4px;font-size:6.8px;color:#8392a5;font-weight:700;letter-spacing:1.18px;right:153.06px;transform:scaleX(0.860);transform-origin:right;">TAX WITHHELD</span>
<span class="t" style="top:612.4px;font-size:6.8px;color:#8392a5;font-weight:700;letter-spacing:1px;right:33.84px;transform:scaleX(0.860);transform-origin:right;">NET EARNINGS</span>
<span class="t" style="top:633.95px;font-size:9.1px;color:#8392a5;-webkit-text-stroke:0.22px #8392a5;left:289.75px;transform:scaleX(1.052);transform-origin:left;">03/05/2018</span>
<span class="t" style="top:634.05px;font-size:8.9px;color:#001737;font-weight:700;right:351.86px;transform:scaleX(0.943);transform-origin:right;">1,050</span>
<span class="t" style="top:633.95px;font-size:9.1px;color:#0bc3cf;-webkit-text-stroke:0.22px #0bc3cf;right:245.93px;transform:scaleX(1.154);transform-origin:right;">+ $32,580.00</span>
<span class="t" style="top:633.95px;font-size:9.1px;color:#f10075;-webkit-text-stroke:0.22px #f10075;right:153.94px;transform:scaleX(1.010);transform-origin:right;">- $3,023.10</span>
<span class="t" style="top:633.95px;font-size:9.1px;color:#001737;-webkit-text-stroke:0.22px #001737;right:61.94px;transform:scaleX(1.019);transform-origin:right;">$28,670.90</span>
<svg style="left:744.3px;top:636.2px;" width="3.8" height="4.8" viewBox="0 0 3.8 4.8"><path d="M1.9,4.8 V0.6 M0.3,1.9 L1.9,0.5 L3.5,1.9" fill="none" stroke="#10b759" stroke-width="0.9" stroke-linecap="round" stroke-linejoin="round"/></svg>
<span class="t" style="top:635.5px;font-size:7px;color:#10b759;font-weight:700;right:35px;transform:scaleX(0.897);transform-origin:right;">4.5%</span>
<div style="position:absolute;left:275.5px;top:649.7px;width:504.5px;height:1px;background:#e9ecf2;"></div>
<span class="t" style="top:658.15px;font-size:9.1px;color:#8392a5;-webkit-text-stroke:0.22px #8392a5;left:289.75px;transform:scaleX(1.052);transform-origin:left;">03/04/2018</span>
<span class="t" style="top:658.25px;font-size:8.9px;color:#001737;font-weight:700;right:351.86px;transform:scaleX(0.975);transform-origin:right;">980</span>
<span class="t" style="top:658.15px;font-size:9.1px;color:#0bc3cf;-webkit-text-stroke:0.22px #0bc3cf;right:245.93px;transform:scaleX(1.135);transform-origin:right;">+ $30,065.10</span>
<span class="t" style="top:658.15px;font-size:9.1px;color:#f10075;-webkit-text-stroke:0.22px #f10075;right:153.95px;transform:scaleX(0.953);transform-origin:right;">- $2,780.00</span>
<span class="t" style="top:658.15px;font-size:9.1px;color:#001737;-webkit-text-stroke:0.22px #001737;right:61.94px;transform:scaleX(1.019);transform-origin:right;">$26,930.40</span>
<svg style="left:744.3px;top:660.4px;" width="3.8" height="4.8" viewBox="0 0 3.8 4.8"><path d="M1.9,0 V4.2 M0.3,2.9 L1.9,4.3 L3.5,2.9" fill="none" stroke="#dc3545" stroke-width="0.9" stroke-linecap="round" stroke-linejoin="round"/></svg>
<span class="t" style="top:659.7px;font-size:7px;color:#dc3545;font-weight:700;right:34.95px;transform:scaleX(0.837);transform-origin:right;">0.8%</span>
<div style="position:absolute;left:275.5px;top:673.9px;width:504.5px;height:1px;background:#e9ecf2;"></div>
<span class="t" style="top:682.35px;font-size:9.1px;color:#8392a5;-webkit-text-stroke:0.22px #8392a5;left:289.75px;transform:scaleX(1.052);transform-origin:left;">03/04/2018</span>
<span class="t" style="top:682.45px;font-size:8.9px;color:#001737;font-weight:700;right:351.86px;transform:scaleX(0.975);transform-origin:right;">980</span>
<span class="t" style="top:682.35px;font-size:9.1px;color:#0bc3cf;-webkit-text-stroke:0.22px #0bc3cf;right:245.93px;transform:scaleX(1.135);transform-origin:right;">+ $30,065.10</span>
<span class="t" style="top:682.35px;font-size:9.1px;color:#f10075;-webkit-text-stroke:0.22px #f10075;right:153.95px;transform:scaleX(0.953);transform-origin:right;">- $2,780.00</span>
<span class="t" style="top:682.35px;font-size:9.1px;color:#001737;-webkit-text-stroke:0.22px #001737;right:61.94px;transform:scaleX(1.019);transform-origin:right;">$26,930.40</span>
<svg style="left:744.3px;top:684.6px;" width="3.8" height="4.8" viewBox="0 0 3.8 4.8"><path d="M1.9,0 V4.2 M0.3,2.9 L1.9,4.3 L3.5,2.9" fill="none" stroke="#dc3545" stroke-width="0.9" stroke-linecap="round" stroke-linejoin="round"/></svg>
<span class="t" style="top:683.9px;font-size:7px;color:#dc3545;font-weight:700;right:34.95px;transform:scaleX(0.837);transform-origin:right;">0.8%</span>
<div style="position:absolute;left:275.5px;top:698.1px;width:504.5px;height:1px;background:#e9ecf2;"></div>
<span class="t" style="top:706.55px;font-size:9.1px;color:#8392a5;-webkit-text-stroke:0.22px #8392a5;left:289.75px;transform:scaleX(1.052);transform-origin:left;">03/04/2018</span>
<span class="t" style="top:706.65px;font-size:8.9px;color:#001737;font-weight:700;right:351.86px;transform:scaleX(0.975);transform-origin:right;">980</span>
<span class="t" style="top:706.55px;font-size:9.1px;color:#0bc3cf;-webkit-text-stroke:0.22px #0bc3cf;right:245.93px;transform:scaleX(1.135);transform-origin:right;">+ $30,065.10</span>
<span class="t" style="top:706.55px;font-size:9.1px;color:#f10075;-webkit-text-stroke:0.22px #f10075;right:153.95px;transform:scaleX(0.953);transform-origin:right;">- $2,780.00</span>
<span class="t" style="top:706.55px;font-size:9.1px;color:#001737;-webkit-text-stroke:0.22px #001737;right:61.94px;transform:scaleX(1.019);transform-origin:right;">$26,930.40</span>
<svg style="left:744.3px;top:708.8px;" width="3.8" height="4.8" viewBox="0 0 3.8 4.8"><path d="M1.9,0 V4.2 M0.3,2.9 L1.9,4.3 L3.5,2.9" fill="none" stroke="#dc3545" stroke-width="0.9" stroke-linecap="round" stroke-linejoin="round"/></svg>
<span class="t" style="top:708.1px;font-size:7px;color:#dc3545;font-weight:700;right:34.95px;transform:scaleX(0.837);transform-origin:right;">0.8%</span>
<div style="position:absolute;left:275.5px;top:722.3px;width:504.5px;height:1px;background:#e9ecf2;"></div>
<span class="t" style="top:730.75px;font-size:9.1px;color:#8392a5;-webkit-text-stroke:0.22px #8392a5;left:289.75px;transform:scaleX(1.052);transform-origin:left;">03/04/2018</span>
<span class="t" style="top:730.85px;font-size:8.9px;color:#001737;font-weight:700;right:351.86px;transform:scaleX(0.975);transform-origin:right;">980</span>
<span class="t" style="top:730.75px;font-size:9.1px;color:#0bc3cf;-webkit-text-stroke:0.22px #0bc3cf;right:245.93px;transform:scaleX(1.135);transform-origin:right;">+ $30,065.10</span>
<span class="t" style="top:730.75px;font-size:9.1px;color:#f10075;-webkit-text-stroke:0.22px #f10075;right:153.95px;transform:scaleX(0.953);transform-origin:right;">- $2,780.00</span>
<span class="t" style="top:730.75px;font-size:9.1px;color:#001737;-webkit-text-stroke:0.22px #001737;right:61.94px;transform:scaleX(1.019);transform-origin:right;">$26,930.40</span>
<svg style="left:744.3px;top:733px;" width="3.8" height="4.8" viewBox="0 0 3.8 4.8"><path d="M1.9,0 V4.2 M0.3,2.9 L1.9,4.3 L3.5,2.9" fill="none" stroke="#dc3545" stroke-width="0.9" stroke-linecap="round" stroke-linejoin="round"/></svg>
<span class="t" style="top:732.3px;font-size:7px;color:#dc3545;font-weight:700;right:34.95px;transform:scaleX(0.837);transform-origin:right;">0.8%</span>
<div class="card" style="left:275.5px;top:761.6px;width:504.5px;height:65.9px;"></div>
<svg style="left:292px;top:777.5px;" width="36" height="36" viewBox="0 0 36 36"><path d="M3,17 V29.5 A3,3 0 0 0 6,32.5 H30 A3,3 0 0 0 33,29.5 V17" fill="none" stroke="#c3cfdc" stroke-width="3" stroke-linecap="round"/><path d="M18,2 V23 M8.5,13.5 L18,23 L27.5,13.5" fill="none" stroke="#c3cfdc" stroke-width="3" stroke-linecap="round" stroke-linejoin="round"/></svg>
<span class="t" style="top:776.3px;font-size:9.4px;color:#1c273c;font-weight:700;left:343.2px;transform:scaleX(0.941);transform-origin:left;">Download your earnings in CSV format.</span>
<span class="t" style="top:796.15px;font-size:8.7px;color:#8392a5;left:343px;transform:scaleX(1.074);transform-origin:left;">Open it in a spreadsheet and perform your own calculations, graphing etc. The CSV file contains</span>
<span class="t" style="top:809.4px;font-size:8.7px;color:#8392a5;left:343px;transform:scaleX(1.092);transform-origin:left;">additional details, such as the buyer location.</span>
<div class="card" style="left:20px;top:834.7px;width:248.5px;height:264.8px;"></div>
<div style="position:absolute;left:20px;top:867.2px;width:248.5px;height:1px;background:#e9ecf2;"></div>
<span class="t" style="top:845.6px;font-size:10.6px;color:#1c273c;font-weight:700;letter-spacing:0.12px;left:34px;transform:scaleX(0.820);transform-origin:left;">Transaction History</span>
<svg style="left:237px;top:846.1px;" width="11" height="10" viewBox="0 0 11 10"><path d="M8.38,6.38 A3.6,3.6 0 1 1 6.8,2.03" fill="none" stroke="#6c7a93" stroke-width="1.1" stroke-linecap="round"/><path d="M6.2,4.3 L9.5,1.1 L9.6,4.5 Z" fill="#6c7a93"/></svg>
<div style="position:absolute;left:253.1px;top:847.25px;width:1.7px;height:1.7px;border-radius:0.3px;background:#6c7a93;"></div>
<div style="position:absolute;left:253.1px;top:850.25px;width:1.7px;height:1.7px;border-radius:0.3px;background:#6c7a93;"></div>
<div style="position:absolute;left:253.1px;top:853.25px;width:1.7px;height:1.7px;border-radius:0.3px;background:#6c7a93;"></div>
<div style="position:absolute;left:20px;top:907.5px;width:248.5px;height:1px;background:#e9ecf2;"></div>
<svg style="left:34px;top:874.3px;" width="25" height="25" viewBox="0 0 25 25"><circle cx="12.5" cy="12.5" r="12.5" fill="#14c8c8"/><polyline points="8.8,12.8 11.5,15.3 16.2,10.2" fill="none" stroke="#fff" stroke-width="1.2" stroke-linecap="round" stroke-linejoin="round"/></svg>
<span class="t" style="top:876.35px;font-size:9.3px;color:#1c273c;font-weight:700;letter-spacing:0.58px;left:66.25px;transform:scaleX(0.840);transform-origin:left;">Payment from #10322</span>
<span class="t" style="top:889.55px;font-size:8.7px;color:#8392a5;-webkit-text-stroke:0.22px #8392a5;letter-spacing:0.23px;left:66.25px;transform:scaleX(0.900);transform-origin:left;">Mar 21, 2019, 3:30pm</span>
<span class="t" style="top:876.35px;font-size:9.3px;color:#1c273c;font-weight:700;letter-spacing:0.68px;right:544.87px;transform:scaleX(0.860);transform-origin:right;">+ $250.00</span>
<span class="t" style="top:889.55px;font-size:8.7px;color:#10b759;-webkit-text-stroke:0.22px #10b759;right:545.76px;transform:scaleX(0.925);transform-origin:right;">Completed</span>
<div style="position:absolute;left:20px;top:948px;width:248.5px;height:1px;background:#e9ecf2;"></div>
<svg style="left:34px;top:914.7px;" width="25" height="25" viewBox="0 0 25 25"><circle cx="12.5" cy="12.5" r="12.5" fill="#a89cf6"/><path d="M16.5,10 V12.5 H9 M11,10.5 L9,12.5 L11,14.5" fill="none" stroke="#fff" stroke-width="1.2" stroke-linecap="round" stroke-linejoin="round"/></svg>
<span class="t" style="top:916.95px;font-size:9.3px;color:#1c273c;font-weight:700;letter-spacing:0.43px;left:66.25px;transform:scaleX(0.840);transform-origin:left;">Process refund to #00910</span>
<span class="t" style="top:930.15px;font-size:8.7px;color:#8392a5;-webkit-text-stroke:0.22px #8392a5;letter-spacing:0.23px;left:66.25px;transform:scaleX(0.900);transform-origin:left;">Mar 21, 2019, 1:00pm</span>
<span class="t" style="top:916.95px;font-size:9.3px;color:#1c273c;font-weight:700;letter-spacing:0.86px;right:544.72px;transform:scaleX(0.860);transform-origin:right;">-$16.50</span>
<span class="t" style="top:930.15px;font-size:8.7px;color:#10b759;-webkit-text-stroke:0.22px #10b759;right:545.76px;transform:scaleX(0.925);transform-origin:right;">Completed</span>
<div style="position:absolute;left:20px;top:990px;width:248.5px;height:1px;background:#e9ecf2;"></div>
<svg style="left:34px;top:955.7px;" width="25" height="25" viewBox="0 0 25 25"><circle cx="12.5" cy="12.5" r="12.5" fill="#fdb886"/><rect x="9.3" y="8.8" width="6.4" height="6.4" rx="1.3" fill="none" stroke="#fff" stroke-width="1.1"/><path d="M9.3,12.2 H15.7" stroke="#fff" stroke-width="1"/><rect x="9.8" y="15" width="1.3" height="1.6" fill="#fff"/><rect x="13.9" y="15" width="1.3" height="1.6" fill="#fff"/><circle cx="10.9" cy="13.7" r="0.5" fill="#fff"/><circle cx="14.1" cy="13.7" r="0.5" fill="#fff"/></svg>
<span class="t" style="top:957.55px;font-size:9.3px;color:#1c273c;font-weight:700;letter-spacing:0.41px;left:66.25px;transform:scaleX(0.840);transform-origin:left;">Process delivery to #44333</span>
<span class="t" style="top:970.75px;font-size:8.7px;color:#8392a5;-webkit-text-stroke:0.22px #8392a5;letter-spacing:0.27px;left:66.25px;transform:scaleX(0.900);transform-origin:left;">Mar 20, 2019, 11:40am</span>
<span class="t" style="top:957.55px;font-size:9.3px;color:#1c273c;font-weight:700;letter-spacing:0.54px;right:544.99px;transform:scaleX(0.860);transform-origin:right;">3 Items</span>
<span class="t" style="top:970.75px;font-size:8.7px;color:#1ec2d0;-webkit-text-stroke:0.22px #1ec2d0;right:545.75px;transform:scaleX(0.902);transform-origin:right;">For pickup</span>
<div style="position:absolute;left:20px;top:1030px;width:248.5px;height:1px;background:#e9ecf2;"></div>
<svg style="left:34px;top:996.5px;" width="25" height="25" viewBox="0 0 25 25"><circle cx="12.5" cy="12.5" r="12.5" fill="#14c8c8"/><polyline points="8.8,12.8 11.5,15.3 16.2,10.2" fill="none" stroke="#fff" stroke-width="1.2" stroke-linecap="round" stroke-linejoin="round"/></svg>
<span class="t" style="top:998.15px;font-size:9.3px;color:#1c273c;font-weight:700;letter-spacing:0.66px;left:66.25px;transform:scaleX(0.840);transform-origin:left;">Payment from #023328</span>
<span class="t" style="top:1011.35px;font-size:8.7px;color:#8392a5;-webkit-text-stroke:0.22px #8392a5;letter-spacing:0.24px;left:66.25px;transform:scaleX(0.900);transform-origin:left;">Mar 20, 2019, 10:30pm</span>
<span class="t" style="top:998.15px;font-size:9.3px;color:#1c273c;font-weight:700;letter-spacing:0.63px;right:544.91px;transform:scaleX(0.860);transform-origin:right;">+ $129.50</span>
<span class="t" style="top:1011.35px;font-size:8.7px;color:#10b759;-webkit-text-stroke:0.22px #10b759;right:545.76px;transform:scaleX(0.925);transform-origin:right;">Completed</span>
<div style="position:absolute;left:20px;top:1070px;width:248.5px;height:1px;background:#e9ecf2;"></div>
<svg style="left:34px;top:1037.2px;" width="25" height="25" viewBox="0 0 25 25"><circle cx="12.5" cy="12.5" r="12.5" fill="#c1cad7"/><path d="M10.2,10.2 L14.8,14.8 M14.8,10.2 L10.2,14.8" fill="none" stroke="#fff" stroke-width="1.1" stroke-linecap="round"/></svg>
<span class="t" style="top:1038.75px;font-size:9.3px;color:#1c273c;font-weight:700;letter-spacing:0.53px;left:66.25px;transform:scaleX(0.840);transform-origin:left;">Payment failed from #087651</span>
<span class="t" style="top:1051.95px;font-size:8.7px;color:#8392a5;-webkit-text-stroke:0.22px #8392a5;letter-spacing:0.24px;left:66.25px;transform:scaleX(0.900);transform-origin:left;">Mar 19, 2019, 12:54pm</span>
<span class="t" style="top:1038.75px;font-size:9.3px;color:#1c273c;font-weight:700;letter-spacing:0.86px;right:544.71px;transform:scaleX(0.860);transform-origin:right;">$150.00</span>
<span class="t" style="top:1051.95px;font-size:8.7px;color:#dc3545;-webkit-text-stroke:0.22px #dc3545;right:545.75px;transform:scaleX(0.905);transform-origin:right;">Declined</span>
<span class="t" style="top:1080.35px;font-size:8.7px;color:#8392a5;left:97.3px;transform:scaleX(0.991);transform-origin:left;">View All Transactions</span>
<svg style="left:184.5px;top:1079px;" width="8" height="9" viewBox="0 0 8 9"><path d="M4,1 V7.5 M1.3,4.8 L4,7.5 L6.7,4.8" fill="none" stroke="#8392a5" stroke-width="1" stroke-linecap="round" stroke-linejoin="round"/></svg>
<div class="card" style="left:275.5px;top:834.7px;width:248.5px;height:264.8px;"></div>
<div style="position:absolute;left:275.5px;top:867.2px;width:248.5px;height:1px;background:#e9ecf2;"></div>
<span class="t" style="top:845.6px;font-size:10.6px;color:#1c273c;font-weight:700;letter-spacing:0.11px;left:289.75px;transform:scaleX(0.820);transform-origin:left;">New Customers</span>
<svg style="left:493px;top:846.1px;" width="11" height="10" viewBox="0 0 11 10"><path d="M8.38,6.38 A3.6,3.6 0 1 1 6.8,2.03" fill="none" stroke="#6c7a93" stroke-width="1.1" stroke-linecap="round"/><path d="M6.2,4.3 L9.5,1.1 L9.6,4.5 Z" fill="#6c7a93"/></svg>
<div style="position:absolute;left:509.1px;top:847.25px;width:1.7px;height:1.7px;border-radius:0.3px;background:#6c7a93;"></div>
<div style="position:absolute;left:509.1px;top:850.25px;width:1.7px;height:1.7px;border-radius:0.3px;background:#6c7a93;"></div>
<div style="position:absolute;left:509.1px;top:853.25px;width:1.7px;height:1.7px;border-radius:0.3px;background:#6c7a93;"></div>
<div style="position:absolute;left:275.5px;top:907.3px;width:248.5px;height:1px;background:#e9ecf2;"></div>
<svg style="left:289.4px;top:873.8px;" width="25.6" height="25.6" viewBox="0 0 25.6 25.6"><circle cx="12.8" cy="12.8" r="12.8" fill="#7a89a6"/></svg>
<span class="t" style="top:881.6px;font-size:11px;color:#fff;font-weight:700;left:302.2px;transform:translateX(-50%);">S</span>
<span class="t" style="top:876.45px;font-size:9.3px;color:#1c273c;font-weight:700;letter-spacing:0.31px;left:322px;transform:scaleX(0.840);transform-origin:left;">Socrates Itumay</span>
<span class="t" style="top:889.75px;font-size:8.7px;color:#8392a5;-webkit-text-stroke:0.22px #8392a5;letter-spacing:0.26px;left:322px;transform:scaleX(0.900);transform-origin:left;">Customer ID#00222</span>
<svg style="left:461px;top:882.1px;" width="13" height="11" viewBox="0 0 13 11"><rect x="0.8" y="0.8" width="11" height="8.6" rx="1" fill="none" stroke="#7987a1" stroke-width="1"/><polyline points="0.8,1.5 6.3,5.6 11.8,1.5" fill="none" stroke="#7987a1" stroke-width="1"/></svg>
<svg style="left:479.5px;top:881.4px;" width="12.5" height="12.5" viewBox="0 0 12.5 12.5"><circle cx="6.1" cy="6.1" r="5.2" fill="none" stroke="#7987a1" stroke-width="1"/><path d="M2.4,2.4 L9.8,9.8" stroke="#7987a1" stroke-width="1"/></svg>
<svg style="left:499px;top:881.1px;" width="12" height="12" viewBox="0 0 12 12"><circle cx="5.4" cy="3.4" r="2.5" fill="none" stroke="#7987a1" stroke-width="1"/><path d="M1,11.2 C1,7.6 3,6.6 5.4,6.6 C7.8,6.6 9.8,7.6 9.8,11.2" fill="none" stroke="#7987a1" stroke-width="1"/></svg>
<div style="position:absolute;left:275.5px;top:947.2px;width:248.5px;height:1px;background:#e9ecf2;"></div>
<svg style="left:289.4px;top:914px;" width="25.6" height="25.6" viewBox="0 0 25.6 25.6"><defs><clipPath id="cav1"><circle cx="12.8" cy="12.8" r="12.8"/></clipPath></defs><g clip-path="url(#cav1)">
<rect width="26" height="26" fill="#241b1b"/><path d="M19,3 C24,6 26,14 24,24 L19,26 Z" fill="#4a3a38"/>
<path d="M5,21 C7,18 18,18 20,21 L21,26 L4,26 Z" fill="#d9d4d2"/><ellipse cx="12.4" cy="12.2" rx="7.3" ry="8.6" fill="#c69a8a"/>
<path d="M5.5,8 C6,2.5 19,2 19.5,8 C17,5.5 8,5.5 5.5,8 Z" fill="#3a2c2a"/>
<ellipse cx="9.6" cy="10.2" rx="1.5" ry="0.8" fill="#6d5550"/><ellipse cx="15.2" cy="10.2" rx="1.5" ry="0.8" fill="#6d5550"/>
<path d="M8,18 C9,21.5 16,21.5 17,18 L17.5,22.5 C15,24.5 10,24.5 7.5,22.5 Z" fill="#a27c70"/></g></svg>
<span class="t" style="top:916.35px;font-size:9.3px;color:#1c273c;font-weight:700;letter-spacing:0.28px;left:322px;transform:scaleX(0.840);transform-origin:left;">Reynante Labares</span>
<span class="t" style="top:929.65px;font-size:8.7px;color:#8392a5;-webkit-text-stroke:0.22px #8392a5;letter-spacing:0.26px;left:322px;transform:scaleX(0.900);transform-origin:left;">Customer ID#00221</span>
<svg style="left:461px;top:922.3px;" width="13" height="11" viewBox="0 0 13 11"><rect x="0.8" y="0.8" width="11" height="8.6" rx="1" fill="none" stroke="#7987a1" stroke-width="1"/><polyline points="0.8,1.5 6.3,5.6 11.8,1.5" fill="none" stroke="#7987a1" stroke-width="1"/></svg>
<svg style="left:479.5px;top:921.6px;" width="12.5" height="12.5" viewBox="0 0 12.5 12.5"><circle cx="6.1" cy="6.1" r="5.2" fill="none" stroke="#7987a1" stroke-width="1"/><path d="M2.4,2.4 L9.8,9.8" stroke="#7987a1" stroke-width="1"/></svg>
<svg style="left:499px;top:921.3px;" width="12" height="12" viewBox="0 0 12 12"><circle cx="5.4" cy="3.4" r="2.5" fill="none" stroke="#7987a1" stroke-width="1"/><path d="M1,11.2 C1,7.6 3,6.6 5.4,6.6 C7.8,6.6 9.8,7.6 9.8,11.2" fill="none" stroke="#7987a1" stroke-width="1"/></svg>
<div style="position:absolute;left:275.5px;top:987.2px;width:248.5px;height:1px;background:#e9ecf2;"></div>
<svg style="left:289.4px;top:954.1px;" width="25.6" height="25.6" viewBox="0 0 25.6 25.6"><defs><clipPath id="cav2"><circle cx="12.8" cy="12.8" r="12.8"/></clipPath></defs><g clip-path="url(#cav2)">
<rect width="26" height="26" fill="#5b6985"/><circle cx="21" cy="6.5" r="3" fill="#b9c3d3"/><circle cx="5" cy="20" r="3" fill="#8894aa"/>
<path d="M7.5,22 C6,14 6.5,4.5 12,4.3 C17.5,4.5 19.5,11 19,22 Z" fill="#2c1f22"/>
<ellipse cx="11.2" cy="12.2" rx="3.9" ry="5" fill="#dcb4a8"/>
<path d="M8,26 C8,21 10,19.5 13,19.5 C16,19.5 18.5,21 18.5,26 Z" fill="#243047"/><path d="M13.5,21 L17,21.5 L17.5,26 L13.5,26 Z" fill="#eef1f6"/></g></svg>
<span class="t" style="top:956.25px;font-size:9.3px;color:#1c273c;font-weight:700;letter-spacing:0.27px;left:322px;transform:scaleX(0.840);transform-origin:left;">Marianne Audrey</span>
<span class="t" style="top:969.55px;font-size:8.7px;color:#8392a5;-webkit-text-stroke:0.22px #8392a5;letter-spacing:0.26px;left:322px;transform:scaleX(0.900);transform-origin:left;">Customer ID#00220</span>
<svg style="left:461px;top:962.4px;" width="13" height="11" viewBox="0 0 13 11"><rect x="0.8" y="0.8" width="11" height="8.6" rx="1" fill="none" stroke="#7987a1" stroke-width="1"/><polyline points="0.8,1.5 6.3,5.6 11.8,1.5" fill="none" stroke="#7987a1" stroke-width="1"/></svg>
<svg style="left:479.5px;top:961.7px;" width="12.5" height="12.5" viewBox="0 0 12.5 12.5"><circle cx="6.1" cy="6.1" r="5.2" fill="none" stroke="#7987a1" stroke-width="1"/><path d="M2.4,2.4 L9.8,9.8" stroke="#7987a1" stroke-width="1"/></svg>
<svg style="left:499px;top:961.4px;" width="12" height="12" viewBox="0 0 12 12"><circle cx="5.4" cy="3.4" r="2.5" fill="none" stroke="#7987a1" stroke-width="1"/><path d="M1,11.2 C1,7.6 3,6.6 5.4,6.6 C7.8,6.6 9.8,7.6 9.8,11.2" fill="none" stroke="#7987a1" stroke-width="1"/></svg>
<div style="position:absolute;left:275.5px;top:1027.2px;width:248.5px;height:1px;background:#e9ecf2;"></div>
<svg style="left:289.4px;top:994.1px;" width="25.6" height="25.6" viewBox="0 0 25.6 25.6"><circle cx="12.8" cy="12.8" r="12.8" fill="#a99cf7"/></svg>
<span class="t" style="top:1001.9px;font-size:11px;color:#fff;font-weight:700;left:302.2px;transform:translateX(-50%);">O</span>
<span class="t" style="top:996.15px;font-size:9.3px;color:#1c273c;font-weight:700;letter-spacing:0.22px;left:322px;transform:scaleX(0.840);transform-origin:left;">Owen Bongcaras</span>
<span class="t" style="top:1009.45px;font-size:8.7px;color:#8392a5;-webkit-text-stroke:0.22px #8392a5;letter-spacing:0.26px;left:322px;transform:scaleX(0.900);transform-origin:left;">Customer ID#00219</span>
<svg style="left:461px;top:1002.4px;" width="13" height="11" viewBox="0 0 13 11"><rect x="0.8" y="0.8" width="11" height="8.6" rx="1" fill="none" stroke="#7987a1" stroke-width="1"/><polyline points="0.8,1.5 6.3,5.6 11.8,1.5" fill="none" stroke="#7987a1" stroke-width="1"/></svg>
<svg style="left:479.5px;top:1001.7px;" width="12.5" height="12.5" viewBox="0 0 12.5 12.5"><circle cx="6.1" cy="6.1" r="5.2" fill="none" stroke="#7987a1" stroke-width="1"/><path d="M2.4,2.4 L9.8,9.8" stroke="#7987a1" stroke-width="1"/></svg>
<svg style="left:499px;top:1001.4px;" width="12" height="12" viewBox="0 0 12 12"><circle cx="5.4" cy="3.4" r="2.5" fill="none" stroke="#7987a1" stroke-width="1"/><path d="M1,11.2 C1,7.6 3,6.6 5.4,6.6 C7.8,6.6 9.8,7.6 9.8,11.2" fill="none" stroke="#7987a1" stroke-width="1"/></svg>
<div style="position:absolute;left:275.5px;top:1067.5px;width:248.5px;height:1px;background:#e9ecf2;"></div>
<svg style="left:289.4px;top:1034px;" width="25.6" height="25.6" viewBox="0 0 25.6 25.6"><circle cx="12.8" cy="12.8" r="12.8" fill="#69b2f8"/></svg>
<span class="t" style="top:1041.8px;font-size:11px;color:#fff;font-weight:700;left:302.2px;transform:translateX(-50%);">K</span>
<span class="t" style="top:1036.05px;font-size:9.3px;color:#1c273c;font-weight:700;letter-spacing:0.13px;left:322px;transform:scaleX(0.840);transform-origin:left;">Kirby Avendula</span>
<span class="t" style="top:1049.35px;font-size:8.7px;color:#8392a5;-webkit-text-stroke:0.22px #8392a5;letter-spacing:0.26px;left:322px;transform:scaleX(0.900);transform-origin:left;">Customer ID#00218</span>
<svg style="left:461px;top:1042.3px;" width="13" height="11" viewBox="0 0 13 11"><rect x="0.8" y="0.8" width="11" height="8.6" rx="1" fill="none" stroke="#7987a1" stroke-width="1"/><polyline points="0.8,1.5 6.3,5.6 11.8,1.5" fill="none" stroke="#7987a1" stroke-width="1"/></svg>
<svg style="left:479.5px;top:1041.6px;" width="12.5" height="12.5" viewBox="0 0 12.5 12.5"><circle cx="6.1" cy="6.1" r="5.2" fill="none" stroke="#7987a1" stroke-width="1"/><path d="M2.4,2.4 L9.8,9.8" stroke="#7987a1" stroke-width="1"/></svg>
<svg style="left:499px;top:1041.3px;" width="12" height="12" viewBox="0 0 12 12"><circle cx="5.4" cy="3.4" r="2.5" fill="none" stroke="#7987a1" stroke-width="1"/><path d="M1,11.2 C1,7.6 3,6.6 5.4,6.6 C7.8,6.6 9.8,7.6 9.8,11.2" fill="none" stroke="#7987a1" stroke-width="1"/></svg>
<span class="t" style="top:1077.85px;font-size:8.7px;color:#8392a5;left:352px;transform:scaleX(0.983);transform-origin:left;">View More Customers</span>
<svg style="left:440px;top:1076.5px;" width="8" height="9" viewBox="0 0 8 9"><path d="M4,1 V7.5 M1.3,4.8 L4,7.5 L6.7,4.8" fill="none" stroke="#8392a5" stroke-width="1" stroke-linecap="round" stroke-linejoin="round"/></svg>
<div class="card" style="left:531.2px;top:834.7px;width:248.8px;height:264.8px;"></div>
<div style="position:absolute;left:531.2px;top:866.9px;width:248.8px;height:1px;background:#e9ecf2;"></div>
<span class="t" style="top:844.95px;font-size:10.6px;color:#1c273c;font-weight:700;letter-spacing:0.19px;left:545px;transform:scaleX(0.820);transform-origin:left;">Real-Time Sales</span>
<div style="position:absolute;left:671.6px;top:847.5px;width:6.3px;height:6.3px;border-radius:50%;background:#69b2f8;"></div>
<div style="position:absolute;left:716.3px;top:847.5px;width:6.3px;height:6.3px;border-radius:50%;background:#d1e6fa;"></div>
<span class="t" style="top:848.1px;font-size:7px;color:#8392a5;font-weight:700;letter-spacing:0.63px;left:682px;transform:scaleX(0.820);transform-origin:left;">TODAY</span>
<span class="t" style="top:848.1px;font-size:7px;color:#8392a5;font-weight:700;letter-spacing:0.64px;left:726.3px;transform:scaleX(0.820);transform-origin:left;">YESTERDAY</span>
<span class="t" style="top:882.3px;font-size:15.4px;color:#001737;-webkit-text-stroke:0.22px #001737;left:545px;transform:scaleX(0.910);transform-origin:left;">$150,200</span>
<svg style="left:606.9px;top:887.6px;" width="4.2" height="5.2" viewBox="0 0 4.2 5.2"><path d="M2.1,5.2 V0.6 M0.3,2.1 L2.1,0.5 L3.9,2.1" fill="none" stroke="#10b759" stroke-width="1.1" stroke-linecap="round" stroke-linejoin="round"/></svg>
<span class="t" style="top:887.05px;font-size:7.5px;color:#10b759;font-weight:700;left:612px;transform:scaleX(0.908);transform-origin:left;">0.20%</span>
<span class="t" style="top:906.6px;font-size:7.2px;color:#8392a5;font-weight:700;letter-spacing:0.69px;left:545px;transform:scaleX(0.860);transform-origin:left;">TOTAL SALES</span>
<span class="t" style="top:882.3px;font-size:15.4px;color:#001737;-webkit-text-stroke:0.22px #001737;left:666px;transform:scaleX(0.897);transform-origin:left;">$21,880</span>
<svg style="left:719.3px;top:887.6px;" width="4.2" height="5.2" viewBox="0 0 4.2 5.2"><path d="M2.1,0 V4.6 M0.3,3.1 L2.1,4.7 L3.9,3.1" fill="none" stroke="#dc3545" stroke-width="1.1" stroke-linecap="round" stroke-linejoin="round"/></svg>
<span class="t" style="top:887.05px;font-size:7.5px;color:#dc3545;font-weight:700;left:724.2px;transform:scaleX(0.894);transform-origin:left;">1.04%</span>
<span class="t" style="top:906.6px;font-size:7.2px;color:#8392a5;font-weight:700;letter-spacing:0.69px;left:666px;transform:scaleX(0.860);transform-origin:left;">AVG. SALES PER DAY</span>
<svg style="left:0px;top:0px;" width="800" height="1119" viewBox="0 0 800 1119"><rect x="598.45" y="940" width="0.7" height="137" fill="#eef0f4"/><rect x="652.55" y="940" width="0.7" height="137" fill="#eef0f4"/><rect x="706.25" y="940" width="0.7" height="137" fill="#eef0f4"/><rect x="759.65" y="940" width="0.7" height="137" fill="#eef0f4"/><rect x="545" y="1072.6" width="215" height="0.8" fill="#eef0f4"/><rect x="544.7" y="940" width="0.8" height="137" fill="#9aa5b6"/><rect x="545.1" y="943.1" width="53.73" height="7.8" fill="#69b2f8"/><rect x="545.1" y="951.9" width="26.86" height="7.8" fill="#d1e6fa"/><rect x="545.1" y="965" width="161.19" height="7.8" fill="#69b2f8"/><rect x="545.1" y="973.8" width="107.46" height="7.8" fill="#d1e6fa"/><rect x="545.1" y="987.2" width="134.32" height="7.8" fill="#69b2f8"/><rect x="545.1" y="996" width="80.59" height="7.8" fill="#d1e6fa"/><rect x="545.1" y="1009.7" width="120.89" height="7.8" fill="#69b2f8"/><rect x="545.1" y="1018.5" width="107.46" height="7.8" fill="#d1e6fa"/><rect x="545.1" y="1031.6" width="134.32" height="7.8" fill="#69b2f8"/><rect x="545.1" y="1040.4" width="147.76" height="7.8" fill="#d1e6fa"/><rect x="545.1" y="1053.4" width="161.19" height="7.8" fill="#69b2f8"/><rect x="545.1" y="1062.2" width="67.16" height="7.8" fill="#d1e6fa"/></svg>
<span class="t" style="top:1079.8px;font-size:7.6px;color:#8392a5;left:545px;transform:translateX(-50%);">0</span>
<span class="t" style="top:1079.8px;font-size:7.6px;color:#8392a5;left:598.8px;transform:translateX(-50%);">20</span>
<span class="t" style="top:1079.8px;font-size:7.6px;color:#8392a5;left:652.9px;transform:translateX(-50%);">40</span>
<span class="t" style="top:1079.8px;font-size:7.6px;color:#8392a5;left:706.6px;transform:translateX(-50%);">60</span>
<span class="t" style="top:1079.8px;font-size:7.6px;color:#8392a5;left:760px;transform:translateX(-50%);">80</span>
</body></html>
